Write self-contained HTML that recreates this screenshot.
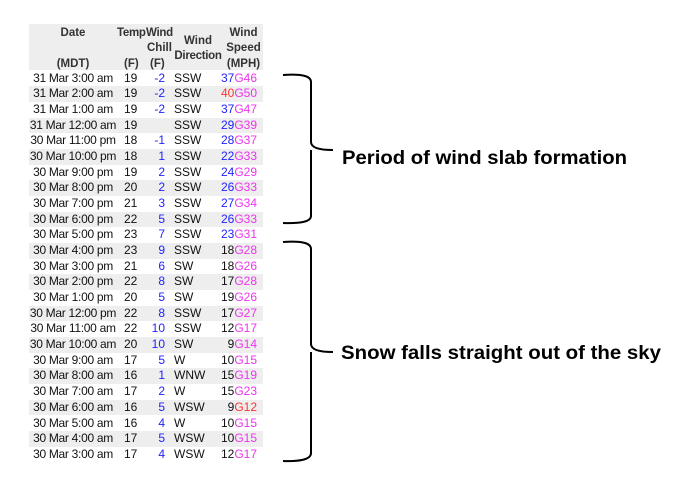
<!DOCTYPE html>
<html><head><meta charset="utf-8"><style>
body{margin:0;width:686px;height:484px;background:#fff;position:relative;overflow:hidden;font-family:"Liberation Sans",Arial,sans-serif;}
.hd{position:absolute;left:29px;top:24px;width:234px;height:46px;background:#eeeeee;}
.h{position:absolute;font-size:11.5px;font-weight:bold;color:#333;line-height:14px;white-space:nowrap;}
.r{position:absolute;left:29px;width:234px;height:15.68px;font-size:12px;line-height:15.68px;color:#111;white-space:nowrap;}
.r.g{background:#eeeeee;}
.r span{position:absolute;top:0;white-space:nowrap;}
.d{left:-4px;width:96px;text-align:center;letter-spacing:-0.3px;}
.t{left:95px;}
.c{left:116px;width:20px;text-align:right;color:#2222ff;}
.w{left:145px;}
.s{right:6px;text-align:right;}
.b{color:#2222ff}.rd{color:#ff3333}.m{color:#ee33ee}
i{font-style:normal}
</style></head><body>
<div class="hd"></div>
<div class="h" style="left:29px;width:88px;text-align:center;top:26px">Date</div>
<div class="h" style="left:29px;width:88px;text-align:center;top:57px">(MDT)</div>
<div class="h" style="left:117px;top:26px;letter-spacing:-0.3px">Temp</div>
<div class="h" style="left:146px;top:26px;letter-spacing:-0.3px">Wind</div>
<div class="h" style="left:124px;top:57px">(F)</div>
<div class="h" style="left:147px;top:41px">Chill</div>
<div class="h" style="left:150px;top:57px">(F)</div>
<div class="h" style="left:172px;width:52px;text-align:center;top:34px">Wind</div>
<div class="h" style="left:172px;width:52px;text-align:center;top:49px;letter-spacing:-0.3px">Direction</div>
<div class="h" style="left:224px;width:39px;text-align:center;top:26px">Wind</div>
<div class="h" style="left:224px;width:39px;text-align:center;top:41px">Speed</div>
<div class="h" style="left:224px;width:39px;text-align:center;top:57px">(MPH)</div>

<div class="r" style="top:70.5px"><span class="d">31 Mar 3:00 am</span><span class="t">19</span><span class="c">-2</span><span class="w">SSW</span><span class="s"><i class="b">37</i><i class="m">G46</i></span></div>
<div class="r g" style="top:86.2px"><span class="d">31 Mar 2:00 am</span><span class="t">19</span><span class="c">-2</span><span class="w">SSW</span><span class="s"><i class="rd">40</i><i class="m">G50</i></span></div>
<div class="r" style="top:101.9px"><span class="d">31 Mar 1:00 am</span><span class="t">19</span><span class="c">-2</span><span class="w">SSW</span><span class="s"><i class="b">37</i><i class="m">G47</i></span></div>
<div class="r g" style="top:117.5px"><span class="d">31 Mar 12:00 am</span><span class="t">19</span><span class="c"></span><span class="w">SSW</span><span class="s"><i class="b">29</i><i class="m">G39</i></span></div>
<div class="r" style="top:133.2px"><span class="d">30 Mar 11:00 pm</span><span class="t">18</span><span class="c">-1</span><span class="w">SSW</span><span class="s"><i class="b">28</i><i class="m">G37</i></span></div>
<div class="r g" style="top:148.9px"><span class="d">30 Mar 10:00 pm</span><span class="t">18</span><span class="c">1</span><span class="w">SSW</span><span class="s"><i class="b">22</i><i class="m">G33</i></span></div>
<div class="r" style="top:164.6px"><span class="d">30 Mar 9:00 pm</span><span class="t">19</span><span class="c">2</span><span class="w">SSW</span><span class="s"><i class="b">24</i><i class="m">G29</i></span></div>
<div class="r g" style="top:180.3px"><span class="d">30 Mar 8:00 pm</span><span class="t">20</span><span class="c">2</span><span class="w">SSW</span><span class="s"><i class="b">26</i><i class="m">G33</i></span></div>
<div class="r" style="top:195.9px"><span class="d">30 Mar 7:00 pm</span><span class="t">21</span><span class="c">3</span><span class="w">SSW</span><span class="s"><i class="b">27</i><i class="m">G34</i></span></div>
<div class="r g" style="top:211.6px"><span class="d">30 Mar 6:00 pm</span><span class="t">22</span><span class="c">5</span><span class="w">SSW</span><span class="s"><i class="b">26</i><i class="m">G33</i></span></div>
<div class="r" style="top:227.3px"><span class="d">30 Mar 5:00 pm</span><span class="t">23</span><span class="c">7</span><span class="w">SSW</span><span class="s"><i class="b">23</i><i class="m">G31</i></span></div>
<div class="r g" style="top:243px"><span class="d">30 Mar 4:00 pm</span><span class="t">23</span><span class="c">9</span><span class="w">SSW</span><span class="s">18<i class="m">G28</i></span></div>
<div class="r" style="top:258.7px"><span class="d">30 Mar 3:00 pm</span><span class="t">21</span><span class="c">6</span><span class="w">SW</span><span class="s">18<i class="m">G26</i></span></div>
<div class="r g" style="top:274.3px"><span class="d">30 Mar 2:00 pm</span><span class="t">22</span><span class="c">8</span><span class="w">SW</span><span class="s">17<i class="m">G28</i></span></div>
<div class="r" style="top:290px"><span class="d">30 Mar 1:00 pm</span><span class="t">20</span><span class="c">5</span><span class="w">SW</span><span class="s">19<i class="m">G26</i></span></div>
<div class="r g" style="top:305.7px"><span class="d">30 Mar 12:00 pm</span><span class="t">22</span><span class="c">8</span><span class="w">SSW</span><span class="s">17<i class="m">G27</i></span></div>
<div class="r" style="top:321.4px"><span class="d">30 Mar 11:00 am</span><span class="t">22</span><span class="c">10</span><span class="w">SSW</span><span class="s">12<i class="m">G17</i></span></div>
<div class="r g" style="top:337.1px"><span class="d">30 Mar 10:00 am</span><span class="t">20</span><span class="c">10</span><span class="w">SW</span><span class="s">9<i class="m">G14</i></span></div>
<div class="r" style="top:352.7px"><span class="d">30 Mar 9:00 am</span><span class="t">17</span><span class="c">5</span><span class="w">W</span><span class="s">10<i class="m">G15</i></span></div>
<div class="r g" style="top:368.4px"><span class="d">30 Mar 8:00 am</span><span class="t">16</span><span class="c">1</span><span class="w">WNW</span><span class="s">15<i class="m">G19</i></span></div>
<div class="r" style="top:384.1px"><span class="d">30 Mar 7:00 am</span><span class="t">17</span><span class="c">2</span><span class="w">W</span><span class="s">15<i class="m">G23</i></span></div>
<div class="r g" style="top:399.8px"><span class="d">30 Mar 6:00 am</span><span class="t">16</span><span class="c">5</span><span class="w">WSW</span><span class="s">9<i class="rd">G12</i></span></div>
<div class="r" style="top:415.5px"><span class="d">30 Mar 5:00 am</span><span class="t">16</span><span class="c">4</span><span class="w">W</span><span class="s">10<i class="m">G15</i></span></div>
<div class="r g" style="top:431.1px"><span class="d">30 Mar 4:00 am</span><span class="t">17</span><span class="c">5</span><span class="w">WSW</span><span class="s">10<i class="m">G15</i></span></div>
<div class="r" style="top:446.8px"><span class="d">30 Mar 3:00 am</span><span class="t">17</span><span class="c">4</span><span class="w">WSW</span><span class="s">12<i class="m">G17</i></span></div>

<svg width="686" height="484" style="position:absolute;left:0;top:0">
<g fill="none" stroke="#000" stroke-width="2">
<path d="M283,75 Q311,73 311,82 L311,142 Q311,150 333,150 M311,150 Q311,150 311,158 L311,216 Q311,224 283,223"/>
<path d="M283,242 Q311,240 311,249 L311,344 Q311,352 333,352 M311,352 L311,453 Q311,462 283,461"/>
</g>
<text x="342" y="164" font-family="Liberation Sans, sans-serif" font-weight="bold" font-size="19" textLength="285" lengthAdjust="spacingAndGlyphs">Period of wind slab formation</text>
<text x="341" y="359" font-family="Liberation Sans, sans-serif" font-weight="bold" font-size="19" textLength="320" lengthAdjust="spacingAndGlyphs">Snow falls straight out of the sky</text>
</svg>
</body></html>
